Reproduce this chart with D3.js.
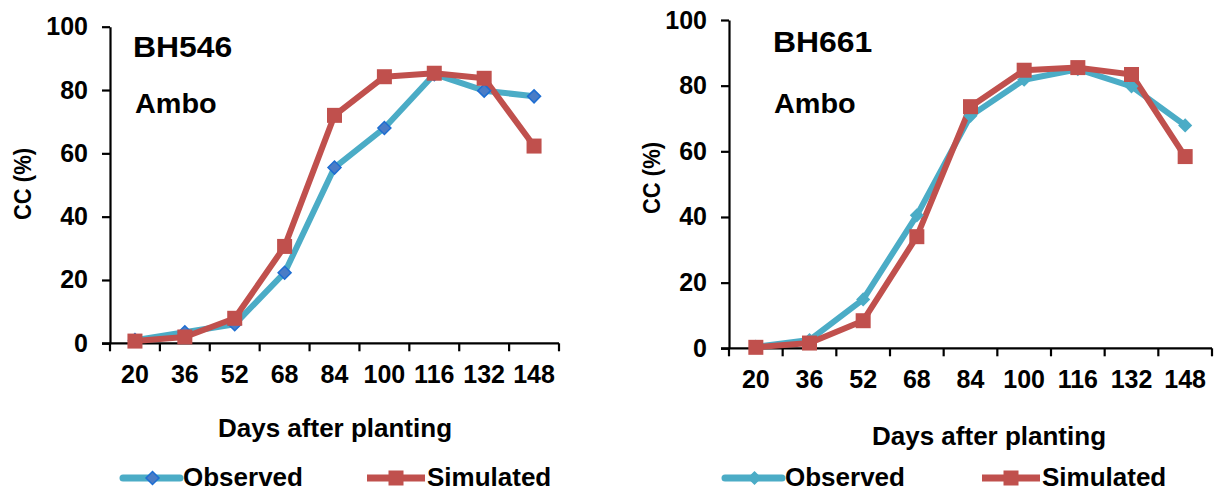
<!DOCTYPE html>
<html>
<head>
<meta charset="utf-8">
<script src="https://cdn.jsdelivr.net/npm/d3@7"></script>
<style>
  html, body { margin: 0; padding: 0; background: #fff; }
  svg { display: block; font-family: "Liberation Sans", Arial, sans-serif; font-weight: bold; }
</style>
</head>
<body>
<svg id="chart" width="1221" height="493"></svg>
<script>
// Days after planting (category axis)
const days = [20, 36, 52, 68, 84, 100, 116, 132, 148];
const yTicks = [0, 20, 40, 60, 80, 100];

// Canopy cover (%) for maize variety BH546 at Ambo
const bh546Observed  = [1, 3.5, 6, 22.3, 55.5, 68, 85, 79.8, 78];
const bh546Simulated = [0.7, 2, 7.9, 30.6, 72, 84.2, 85.3, 83.7, 62.3];

// Canopy cover (%) for maize variety BH661 at Ambo
const bh661Observed  = [0.5, 2.5, 14.9, 40.5, 70.8, 81.8, 85, 79.8, 67.9];
const bh661Simulated = [0.3, 1.6, 8.4, 34, 73.6, 84.7, 85.5, 83.4, 58.4];

const cyan = "#4BACC6";
const red = "#C0504D";

const svg = d3.select("#chart");

const panels = [
  {
    title: "BH546", site: "Ambo",
    observed: bh546Observed, simulated: bh546Simulated,
    x0: 110, x1: 559, yTop: 26.7, yBottom: 343.3,
    titleX: 133, titleY: 57, siteX: 135, siteY: 113,
    yTitleX: 31, yTitleY: 184,
    xTitleX: 335, xTitleY: 437, tickLabelY: 383,
    legendY: 478, legendTextY: 486,
    obsLine: [123, 180], obsText: 183, simLine: [367, 425], simText: 427,
    diamondFill: "#4A7CC6", diamondStroke: "#1E6ED2", diamondSize: 13
  },
  {
    title: "BH661", site: "Ambo",
    observed: bh661Observed, simulated: bh661Simulated,
    x0: 729, x1: 1212, yTop: 20, yBottom: 348.3,
    titleX: 773, titleY: 52, siteX: 774, siteY: 113,
    yTitleX: 660, yTitleY: 178,
    xTitleX: 989, xTitleY: 445, tickLabelY: 388,
    legendY: 478, legendTextY: 486,
    obsLine: [725, 782], obsText: 785, simLine: [982, 1040], simText: 1042,
    diamondFill: cyan, diamondStroke: cyan, diamondSize: 12
  }
];

panels.forEach(p => {
  const g = svg.append("g");

  const x = d3.scaleBand().domain(days).range([p.x0, p.x1]).padding(0);
  const y = d3.scaleLinear().domain([0, 100]).range([p.yBottom, p.yTop]);

  // Y axis with outward ticks
  const yAxis = g.append("g")
    .attr("transform", `translate(${p.x0},0)`)
    .call(d3.axisLeft(y).tickValues(yTicks).tickSize(8).tickPadding(14).tickSizeOuter(0));
  yAxis.select(".domain").attr("stroke", "#000").attr("stroke-width", 2.2);
  yAxis.selectAll(".tick line").attr("stroke", "#000").attr("stroke-width", 2.2);
  yAxis.selectAll(".tick text")
    .attr("fill", "#000").style("font-size", "25px").style("font-weight", "bold")
    .style("font-family", "'Liberation Sans', Arial, sans-serif");

  // X axis: labels centered in each band, ticks between bands
  const xAxis = g.append("g")
    .attr("transform", `translate(0,${p.yBottom})`)
    .call(d3.axisBottom(x).tickSize(0).tickPadding(0).tickSizeOuter(0));
  xAxis.select(".domain").remove();
  xAxis.selectAll(".tick text")
    .attr("y", p.tickLabelY - p.yBottom).attr("dy", null)
    .attr("fill", "#000").style("font-size", "25px").style("font-weight", "bold")
    .style("font-family", "'Liberation Sans', Arial, sans-serif");

  const boundaries = days.map(d => x(d)).concat([x(days[days.length - 1]) + x.bandwidth()]);
  g.append("line")
    .attr("x1", p.x0 - 8).attr("x2", p.x1)
    .attr("y1", p.yBottom).attr("y2", p.yBottom)
    .attr("stroke", "#000").attr("stroke-width", 2.2);
  g.selectAll(".xtick").data(boundaries).enter().append("line")
    .attr("class", "xtick")
    .attr("x1", d => d).attr("x2", d => d)
    .attr("y1", p.yBottom).attr("y2", p.yBottom + 8)
    .attr("stroke", "#000").attr("stroke-width", 2.2);

  const cx = (d, i) => x(days[i]) + x.bandwidth() / 2;
  const line = d3.line().x((d, i) => cx(d, i)).y(d => y(d));

  // Observed series
  g.append("path").datum(p.observed)
    .attr("d", line).attr("fill", "none")
    .attr("stroke", cyan).attr("stroke-width", 6).attr("stroke-linejoin", "round");

  // Simulated series
  g.append("path").datum(p.simulated)
    .attr("d", line).attr("fill", "none")
    .attr("stroke", red).attr("stroke-width", 6).attr("stroke-linejoin", "round");

  // Observed markers (diamonds)
  const ds = p.diamondSize / 2;
  g.selectAll(".obs").data(p.observed).enter().append("path")
    .attr("class", "obs")
    .attr("transform", (d, i) => `translate(${cx(d, i)},${y(d)})`)
    .attr("d", `M0,${-ds}L${ds},0L0,${ds}L${-ds},0Z`)
    .attr("fill", p.diamondFill).attr("stroke", p.diamondStroke).attr("stroke-width", 1.5);

  // Simulated markers (squares)
  const sq = 15;
  g.selectAll(".sim").data(p.simulated).enter().append("rect")
    .attr("class", "sim")
    .attr("x", (d, i) => cx(d, i) - sq / 2).attr("y", d => y(d) - sq / 2)
    .attr("width", sq).attr("height", sq)
    .attr("fill", red);

  // Variety and site annotations
  g.append("text")
    .attr("transform", `translate(${p.titleX},${p.titleY}) scale(1.1,1)`)
    .style("font-size", "29px").text(p.title);
  g.append("text")
    .attr("transform", `translate(${p.siteX},${p.siteY}) scale(1.03,1)`)
    .style("font-size", "28px").text(p.site);

  // Axis titles
  g.append("text")
    .attr("transform", `translate(${p.yTitleX},${p.yTitleY}) rotate(-90) scale(1,1.12)`)
    .attr("text-anchor", "middle").style("font-size", "22px").text("CC (%)");
  g.append("text").attr("x", p.xTitleX).attr("y", p.xTitleY)
    .attr("text-anchor", "middle").style("font-size", "26px").text("Days after planting");

  // Legend
  const leg = g.append("g");
  leg.append("line")
    .attr("x1", p.obsLine[0]).attr("x2", p.obsLine[1])
    .attr("y1", p.legendY).attr("y2", p.legendY)
    .attr("stroke", cyan).attr("stroke-width", 7).attr("stroke-linecap", "round");
  const lmx = (p.obsLine[0] + p.obsLine[1]) / 2 + 1;
  leg.append("path")
    .attr("transform", `translate(${lmx},${p.legendY})`)
    .attr("d", `M0,${-ds}L${ds},0L0,${ds}L${-ds},0Z`)
    .attr("fill", p.diamondFill).attr("stroke", p.diamondStroke).attr("stroke-width", 1.5);
  leg.append("text").attr("x", p.obsText).attr("y", p.legendTextY)
    .style("font-size", "26px").text("Observed");

  leg.append("line")
    .attr("x1", p.simLine[0]).attr("x2", p.simLine[1])
    .attr("y1", p.legendY).attr("y2", p.legendY)
    .attr("stroke", red).attr("stroke-width", 7);
  const smx = (p.simLine[0] + p.simLine[1]) / 2;
  leg.append("rect")
    .attr("x", smx - sq / 2).attr("y", p.legendY - sq / 2)
    .attr("width", sq).attr("height", sq).attr("fill", red);
  leg.append("text").attr("x", p.simText).attr("y", p.legendTextY)
    .style("font-size", "26px").text("Simulated");
});
</script>
</body>
</html>
